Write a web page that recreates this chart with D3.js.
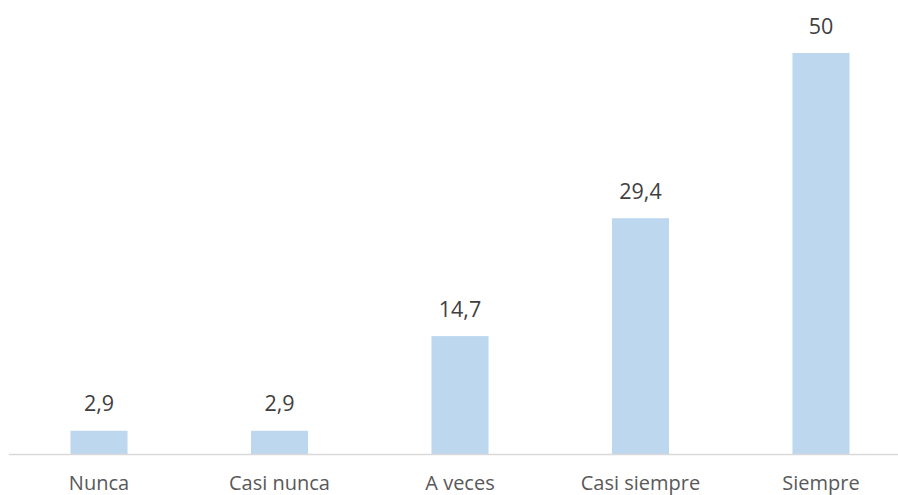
<!DOCTYPE html>
<html><head><meta charset="utf-8">
<script src="https://cdn.jsdelivr.net/npm/d3@7"></script>
<style>body{margin:0;background:#fff}svg{display:block}</style>
</head><body><svg id="c" width="898" height="495"></svg>
<script>
const categories = ["Nunca","Casi nunca","A veces","Casi siempre","Siempre"];
const values = [2.9, 2.9, 14.7, 29.4, 50];
const valueLabels = ["2,9","2,9","14,7","29,4","50"];

const svg = d3.select("#c");
const baseY = 454;
const x = d3.scaleBand().domain(categories).range([8.75, 911.25]).paddingInner(0.684).paddingOuter(0.342);
const y = d3.scaleLinear().domain([0, 50]).range([baseY, 53]);
const font = "'Open Sans', sans-serif";

svg.selectAll("rect.bar").data(values).join("rect")
  .attr("class","bar")
  .attr("x",(d,i)=>x(categories[i]))
  .attr("width",x.bandwidth())
  .attr("y",d=>y(d))
  .attr("height",d=>baseY-y(d))
  .attr("fill","#bdd7ee");

svg.append("line").attr("x1",9).attr("x2",898).attr("y1",baseY+0.5).attr("y2",baseY+0.5)
  .attr("stroke","#d9d9d9").attr("stroke-width",1.5);

svg.selectAll("text.val").data(values).join("text")
  .attr("class","val")
  .attr("x",(d,i)=>x(categories[i])+x.bandwidth()/2)
  .attr("y",d=>y(d)-19.5)
  .attr("text-anchor","middle")
  .attr("font-family",font).attr("font-size",21.5).attr("fill","#404040")
  .text((d,i)=>valueLabels[i]);

svg.selectAll("text.cat").data(categories).join("text")
  .attr("class","cat")
  .attr("x",d=>x(d)+x.bandwidth()/2)
  .attr("y",490)
  .attr("text-anchor","middle")
  .attr("font-family",font).attr("font-size",20).attr("fill","#595959")
  .text(d=>d);
</script></body></html>
